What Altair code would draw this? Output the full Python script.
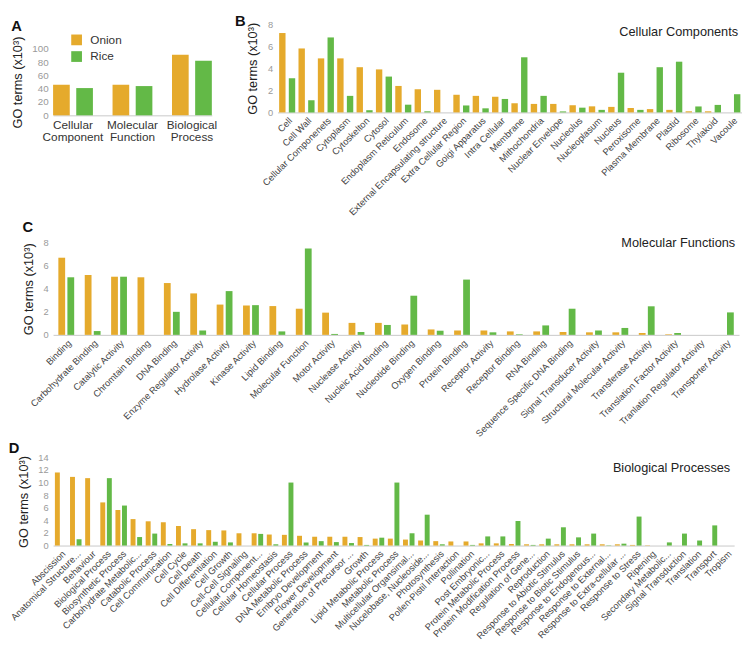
import altair as alt
import pandas as pd

ONION = "#E5AA2C"
RICE = "#63B947"
FONT = "Liberation Sans"
YTITLE = "GO terms (x10³)"

# ---------------- Panel A ----------------
a_categories = ["Cellular Component", "Molecular Function", "Biological Process"]
a_onion = [46, 46, 91]
a_rice = [41, 44, 82]

# ---------------- Panel B ----------------
b_categories = ["Cell", "Cell Wall", "Cellular Componenets", "Cytoplasm", "Cytoskelton", "Cytosol",
                "Endoplasm Reticulum", "Endosome", "External Encapsulating structure",
                "Extra Cellular Region", "Goigi Apparatus", "Intra Cellular", "Membrane",
                "Mithochondria", "Nuclear Envelope", "Nucleolus", "Nucleoplasum", "Nucleus",
                "Peroxisome", "Plasma Membrane", "Plastid", "Ribosome", "Thylakoid", "Vacoule"]
b_onion = [7.2, 5.8, 4.9, 4.9, 4.1, 3.9, 2.4, 2.1, 2.05, 1.6, 1.5, 1.42, 0.83, 0.77, 0.77,
           0.65, 0.55, 0.5, 0.4, 0.3, 0.23, 0.1, 0.1, 0.0]
b_rice = [3.1, 1.1, 6.8, 1.5, 0.2, 3.25, 0.7, 0.1, 0.0, 0.63, 0.37, 1.22, 5.0, 1.5, 0.09,
          0.43, 0.23, 3.6, 0.23, 4.1, 4.6, 0.54, 0.68, 1.65]

# ---------------- Panel C ----------------
c_categories = ["Binding", "Carbohydrate Binding", "Catalytic Activity", "Chromtain Binding",
                "DNA Binding", "Enzyme Regulator Activity", "Hydrolase Activity", "Kinase Activity",
                "Lipid Binding", "Molecular Function", "Motor Activity", "Nuclease Activity",
                "Nucleic Acid Binding", "Nucleotide Binding", "Oxygen Binding", "Protein Binding",
                "Receptor Activity", "Receptor Binding", "RNA Binding",
                "Sequence Specific DNA Binding", "Signal Transducer Activity",
                "Structural Molecular Activity", "Transferase Activity",
                "Translation Factor Activity", "Tranlation Regulator Activity",
                "Transporter Activity"]
c_onion = [6.7, 5.2, 5.05, 5.0, 4.5, 3.6, 2.63, 2.55, 2.5, 2.27, 1.93, 1.04, 1.04, 0.9, 0.47,
           0.38, 0.38, 0.3, 0.3, 0.25, 0.22, 0.22, 0.16, 0.05, 0.0, 0.0]
c_rice = [5.0, 0.33, 5.05, 0.0, 2.0, 0.38, 3.8, 2.58, 0.3, 7.5, 0.08, 0.25, 0.86, 3.4, 0.36,
          4.8, 0.22, 0.05, 0.82, 2.27, 0.38, 0.6, 2.48, 0.16, 0.0, 1.95]

# ---------------- Panel D ----------------
d_categories = ["Abscission", "Anatomical Structure...", "Behaviour", "Biological Process",
                "Biosynthetic Process", "Carbohydrate Metabolic...", "Catabolic Process",
                "Cell Communication", "Cell Cycle", "Cell Death", "Cell Differentiation",
                "Cell Growth", "Cell-Cell Signaling", "Cellular Component...",
                "Cellular Homeostasis", "Cellular Process", "DNA Metabolic Process",
                "Embryo Development", "Flower Development", "Generation of Precursor ...",
                "Growth", "Lipid Metabolic Process", "Metabolic Process",
                "Multicellular Organsimal...", "Nucelobase, Nucleoside...", "Photosynthesis",
                "Pollen-Pistil Interaction", "Pollination", "Post Embryonic...",
                "Protein Metabolic Process", "Protein Modification Process",
                "Regulation of Gene...", "Reproduction", "Response to Abiotic Stimulus",
                "Response to Biotic Stimulus", "Response to Endogenous...",
                "Response to External...", "Response to Extra-cellular ...",
                "Response to Stress", "Ripening", "Secondary Metabolic...",
                "Signal Transduction", "Translation", "Transport", "Tropism"]
d_onion = [11.6, 10.9, 10.7, 6.85, 5.65, 4.2, 3.85, 3.7, 3.1, 2.6, 2.45, 2.4, 1.95, 1.95, 1.75,
           1.7, 1.55, 1.4, 1.4, 1.4, 1.35, 1.1, 1.1, 0.95, 0.8, 0.7, 0.65, 0.65, 0.35, 0.35,
           0.25, 0.2, 0.2, 0.2, 0.2, 0.2, 0.2, 0.2, 0.1, 0.05, 0.0, 0.0, 0.0, 0.0, 0.0]
d_rice = [0.0, 1.0, 0.0, 10.7, 6.35, 1.35, 1.9, 0.25, 0.35, 0.35, 0.6, 0.5, 0.0, 1.85, 0.2,
          10.0, 0.5, 0.7, 0.55, 0.4, 0.1, 1.25, 10.0, 1.95, 4.9, 0.2, 0.0, 0.1, 1.45, 1.45,
          3.9, 0.1, 1.1, 2.9, 1.3, 1.9, 0.05, 0.3, 4.6, 0.0, 0.5, 1.9, 0.8, 3.2, 0.0]

species = ["Onion", "Rice"]
cscale = alt.Scale(domain=species, range=[ONION, RICE])


def long_df(cats, onion, rice):
    rows = []
    for c, o, r in zip(cats, onion, rice):
        rows.append({"category": c, "species": "Onion", "value": o})
        rows.append({"category": c, "species": "Rice", "value": r})
    return pd.DataFrame(rows)


def y_enc(ymax, ticks, lsize=9.5, title_y=None):
    kw = dict(values=ticks, title=YTITLE, domain=False, ticks=False, grid=False,
              labelColor="#9a9a9a", labelFontSize=lsize, titleFontSize=13,
              titleFontWeight="normal", titleColor="#222222",
              labelPadding=5, titlePadding=8)
    if title_y is not None:
        kw["titleY"] = title_y
    return alt.Y("value:Q",
                 scale=alt.Scale(domain=[0, ymax], nice=False, zero=True),
                 axis=alt.Axis(**kw))


def letter(t, off, dx=0):
    return alt.TitleParams(t, anchor="start", frame="bounds", fontSize=15,
                           fontWeight="bold", color="#111111", offset=off, dx=dx)


def panel(let, loff, ldx, name, cats, onion, rice, width, height, ymax, ystep,
          xpi, xpo, opi, opo, toff):
    df = long_df(cats, onion, rice)
    bars = alt.Chart(df).mark_bar().encode(
        x=alt.X("category:N", sort=cats, title=None,
                scale=alt.Scale(paddingInner=xpi, paddingOuter=xpo),
                axis=alt.Axis(labelAngle=-45, labelFontSize=9.5, labelColor="#444444",
                              domainColor="#c8c8c8", ticks=False, labelPadding=3,
                              labelOverlap=False, labelLimit=300)),
        xOffset=alt.XOffset("species:N", sort=species,
                            scale=alt.Scale(paddingInner=opi, paddingOuter=opo)),
        y=y_enc(ymax, list(range(0, ymax + 1, ystep))),
        color=alt.Color("species:N", scale=cscale, legend=None),
    ).properties(
        width=width, height=height,
        title=alt.TitleParams(name, anchor="end", frame="group", orient="top", offset=toff,
                              dx=-4, fontSize=13, fontWeight="normal", color="#222222"),
    )
    return alt.vconcat(bars, title=letter(let, loff, ldx))


# Panel A chart
a_df = long_df(a_categories, a_onion, a_rice)
chart_a = alt.Chart(a_df).mark_bar().encode(
    x=alt.X("category:N", sort=a_categories, title=None,
            scale=alt.Scale(paddingInner=0.33, paddingOuter=0.0),
            axis=alt.Axis(labelAngle=0, labelExpr="split(datum.label, ' ')", labelFontSize=12,
                          labelColor="#333333", labelLineHeight=13, domainColor="#c8c8c8",
                          ticks=False, labelPadding=4)),
    xOffset=alt.XOffset("species:N", sort=species,
                        scale=alt.Scale(paddingInner=0.28, paddingOuter=0.0)),
    y=y_enc(137, [0, 20, 40, 60, 80, 100], lsize=10, title_y=59),
    color=alt.Color("species:N", scale=cscale,
                    legend=alt.Legend(title=None, orient="none", legendX=18, legendY=10,
                                      symbolType="square", symbolSize=120, labelFontSize=12,
                                      labelColor="#333333", rowPadding=5, labelOffset=8,
                                      symbolStrokeWidth=0)),
).properties(width=162, height=93)
chart_a = alt.vconcat(chart_a, title=letter("A", -10))

chart_b = panel("B", -10, -12, "Cellular Components", b_categories, b_onion, b_rice,
                474, 90, 8, 2, 0.0, 0.0, 0.34, 0.17, -20)
chart_c = panel("C", 2, 0, "Molecular Functions", c_categories, c_onion, c_rice,
                700, 94, 8, 2, 0.4, 0.2, 0.25, 0.0, -12)
chart_d = panel("D", -4, 0, "Biological Processes", d_categories, d_onion, d_rice,
                695, 90, 14, 2, 0.24, 0.12, 0.25, 0.0, -23)

top = alt.hconcat(chart_a, chart_b, spacing=18).resolve_scale(
    color="independent", xOffset="independent")
chart = alt.vconcat(top, chart_c, chart_d, spacing=3).resolve_scale(
    color="independent", xOffset="independent"
).properties(
    padding={"left": 0, "top": 0, "right": 0, "bottom": 0}
).configure(font=FONT).configure_view(stroke=None)

chart.save("out.html", embed_options={"renderer": "svg", "actions": False})
